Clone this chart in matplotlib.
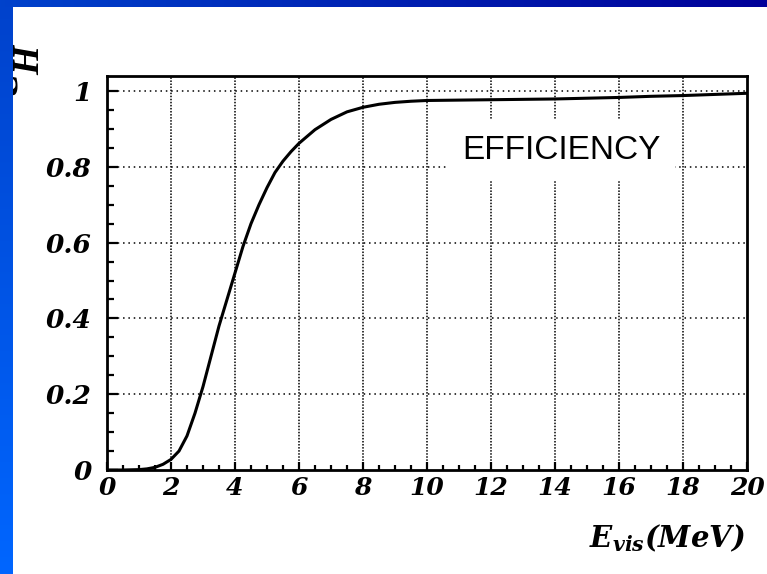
import matplotlib
matplotlib.use("Agg")
import matplotlib.pyplot as plt
from matplotlib.ticker import MultipleLocator
import numpy as np

plt.rcParams['mathtext.fontset'] = 'custom'
plt.rcParams['mathtext.bf'] = 'DejaVu Serif:bold:italic'
plt.rcParams['mathtext.it'] = 'DejaVu Serif:bold:italic'
plt.rcParams['mathtext.rm'] = 'DejaVu Serif:bold:italic'

# visible energy (MeV) and detection efficiency
e_vis = [0, 0.5, 1, 1.25, 1.5, 1.75, 2, 2.25, 2.5, 2.75, 3, 3.25, 3.5, 3.75, 4,
         4.25, 4.5, 4.75, 5, 5.25, 5.5, 5.75, 6, 6.5, 7, 7.5, 8, 8.5, 9, 9.5, 10,
         11, 12, 13, 14, 15, 16, 17, 18, 19, 20]
eff = [0, 0, 0.001, 0.003, 0.007, 0.015, 0.028, 0.05, 0.09, 0.15, 0.22, 0.30,
       0.38, 0.45, 0.52, 0.59, 0.65, 0.70, 0.745, 0.785, 0.815, 0.84, 0.862,
       0.898, 0.925, 0.945, 0.957, 0.965, 0.970, 0.973, 0.975, 0.976, 0.977,
       0.978, 0.979, 0.981, 0.983, 0.986, 0.988, 0.991, 0.994]
xticks = np.arange(0, 21, 2)
yticks = [0, 0.2, 0.4, 0.6, 0.8, 1.0]
yticklabels = ['0', '0.2', '0.4', '0.6', '0.8', '1']

fig = plt.figure(figsize=(7.67, 5.74), dpi=100)
ax = fig.add_axes([107/767, 1-470/574, 640/767, 394/574])

ax.plot(e_vis, eff, color='black', lw=2.2, zorder=4)
ax.set_xlim(0, 20)
ax.set_ylim(0, 1.0396)

ax.set_xticks(xticks)
ax.set_xticklabels([str(v) for v in xticks])
ax.set_yticks(yticks)
ax.set_yticklabels(yticklabels)
ax.xaxis.set_minor_locator(MultipleLocator(0.5))
ax.yaxis.set_minor_locator(MultipleLocator(0.05))

for t in ax.get_xticklabels() + ax.get_yticklabels():
    t.set_fontfamily('DejaVu Serif')
    t.set_fontweight('bold')
    t.set_fontstyle('italic')
    t.set_fontsize(18)
for t in ax.get_yticklabels():
    t.set_fontsize(19)

ax.tick_params(axis='x', which='major', direction='in', length=6, width=1.6, pad=4)
ax.tick_params(axis='x', which='minor', direction='in', length=3.5, width=1.6)
ax.tick_params(axis='y', which='major', direction='in', length=8, width=1.6, pad=11)
ax.tick_params(axis='y', which='minor', direction='in', length=5, width=1.6)
for sp in ax.spines.values():
    sp.set_linewidth(2)

# dotted grid, vertical lines denser than horizontal
for x in xticks[1:-1]:
    ax.axvline(x, color='black', lw=1.1, ls=(0, (1, 1)), zorder=1)
for y in yticks[1:]:
    ax.axhline(y, color='black', lw=1.1, ls=(0, (1, 2.5)), zorder=1)

ax.text(14.19, 0.842, 'EFFICIENCY', family='Liberation Sans', fontsize=24,
        ha='center', va='center', zorder=3,
        bbox=dict(boxstyle='square,pad=0.45', fc='white', ec='none'))

fig.text(745/767, 1-538/574, r'$\mathbf{E_{vis}(MeV)}$', fontsize=21,
         ha='right', va='center')

# epsilon_H, the epsilon sits mostly under the frame on the left
fig.text(24/767, 1-84/574, r'$\epsilon$', fontsize=26, rotation=90,
         ha='right', va='center')
fig.text(12/767, 1-60/574, 'H', family='Liberation Serif', weight='bold',
         style='italic', fontsize=27, rotation=90, ha='left', va='center')

# blue frame: gradient bar on top and on the left
top = fig.add_axes([0, 1-7/574, 1, 7/574], zorder=10)
grad = np.linspace(0, 1, 256)
c0 = np.array([0.0, 0.26, 0.80])
c1 = np.array([0.0, 0.0, 0.60])
top.imshow((c0 + (c1 - c0) * grad[:, None])[None, :, :], aspect='auto')
top.axis('off')
left = fig.add_axes([0, 0, 12/767, 1-7/574], zorder=10)
c2 = np.array([0.0, 0.40, 1.0])
left.imshow((c0 + (c2 - c0) * grad[:, None])[:, None, :], aspect='auto')
left.axis('off')

fig.savefig('out.png', dpi=100)
